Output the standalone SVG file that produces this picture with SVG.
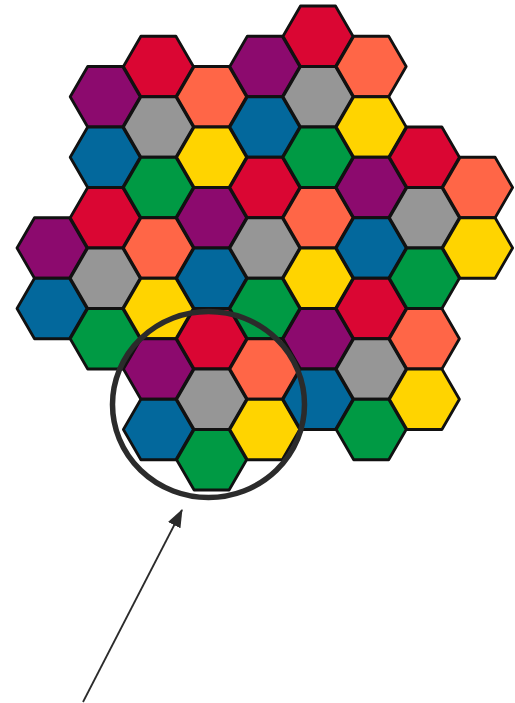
<svg xmlns="http://www.w3.org/2000/svg" xmlns:xlink="http://www.w3.org/1999/xlink" width="515" height="703" viewBox="0 0 515 703">
<style>
.h{stroke:#111;stroke-width:2.8;stroke-linejoin:round}
.r{fill:#DA0633}.o{fill:#FF6647}.g{fill:#969696}.y{fill:#FFD400}
.gr{fill:#009A44}.b{fill:#03689C}.p{fill:#8C0A6E}
.ring{fill:none;stroke:#2B2B2B;stroke-width:5.5}
.arr{stroke:#2B2B2B;stroke-width:1.8;fill:none}
</style>
<defs>
<polygon id="hex" points="-35,0 -17.5,-30.25 17.5,-30.25 35,0 17.5,30.25 -17.5,30.25"/>
<marker id="ah" markerWidth="18" markerHeight="14" refX="17" refY="7" orient="auto" markerUnits="userSpaceOnUse" viewBox="0 0 18 14">
<path d="M0,0 L18,7 L0,14 Z" fill="#2B2B2B"/>
</marker>
</defs>
<g id="cells">
<g id="c0a"><use href="#hex" class="h p" x="52" y="248"/></g>
<g id="c0b"><use href="#hex" class="h b" x="52" y="308.5"/></g>

<g id="c1a"><use href="#hex" class="h p" x="105.2" y="96.75"/></g>
<g id="c1b"><use href="#hex" class="h b" x="105.2" y="157.25"/></g>
<g id="c1c"><use href="#hex" class="h r" x="105.2" y="217.75"/></g>
<g id="c1d"><use href="#hex" class="h g" x="105.2" y="278.25"/></g>
<g id="c1e"><use href="#hex" class="h gr" x="105.2" y="338.75"/></g>

<g id="c2a"><use href="#hex" class="h r" x="158.4" y="66.5"/></g>
<g id="c2b"><use href="#hex" class="h g" x="158.4" y="127"/></g>
<g id="c2c"><use href="#hex" class="h gr" x="158.4" y="187.5"/></g>
<g id="c2d"><use href="#hex" class="h o" x="158.4" y="248"/></g>
<g id="c2e"><use href="#hex" class="h y" x="158.4" y="308.5"/></g>
<g id="c2f"><use href="#hex" class="h p" x="158.4" y="369"/></g>
<g id="c2g"><use href="#hex" class="h b" x="158.4" y="429.5"/></g>

<g id="c3a"><use href="#hex" class="h o" x="211.6" y="96.75"/></g>
<g id="c3b"><use href="#hex" class="h y" x="211.6" y="157.25"/></g>
<g id="c3c"><use href="#hex" class="h p" x="211.6" y="217.75"/></g>
<g id="c3d"><use href="#hex" class="h b" x="211.6" y="278.25"/></g>
<g id="c3e"><use href="#hex" class="h r" x="211.6" y="338.75"/></g>
<g id="c3f"><use href="#hex" class="h g" x="211.6" y="399.25"/></g>
<g id="c3g"><use href="#hex" class="h gr" x="211.6" y="459.75"/></g>

<g id="c4a"><use href="#hex" class="h p" x="264.8" y="66.5"/></g>
<g id="c4b"><use href="#hex" class="h b" x="264.8" y="127"/></g>
<g id="c4c"><use href="#hex" class="h r" x="264.8" y="187.5"/></g>
<g id="c4d"><use href="#hex" class="h g" x="264.8" y="248"/></g>
<g id="c4e"><use href="#hex" class="h gr" x="264.8" y="308.5"/></g>
<g id="c4f"><use href="#hex" class="h o" x="264.8" y="369"/></g>
<g id="c4g"><use href="#hex" class="h y" x="264.8" y="429.5"/></g>

<g id="c5a"><use href="#hex" class="h r" x="318" y="36.25"/></g>
<g id="c5b"><use href="#hex" class="h g" x="318" y="96.75"/></g>
<g id="c5c"><use href="#hex" class="h gr" x="318" y="157.25"/></g>
<g id="c5d"><use href="#hex" class="h o" x="318" y="217.75"/></g>
<g id="c5e"><use href="#hex" class="h y" x="318" y="278.25"/></g>
<g id="c5f"><use href="#hex" class="h p" x="318" y="338.75"/></g>
<g id="c5g"><use href="#hex" class="h b" x="318" y="399.25"/></g>

<g id="c6a"><use href="#hex" class="h o" x="371.2" y="66.5"/></g>
<g id="c6b"><use href="#hex" class="h y" x="371.2" y="127"/></g>
<g id="c6c"><use href="#hex" class="h p" x="371.2" y="187.5"/></g>
<g id="c6d"><use href="#hex" class="h b" x="371.2" y="248"/></g>
<g id="c6e"><use href="#hex" class="h r" x="371.2" y="308.5"/></g>
<g id="c6f"><use href="#hex" class="h g" x="371.2" y="369"/></g>
<g id="c6g"><use href="#hex" class="h gr" x="371.2" y="429.5"/></g>

<g id="c7a"><use href="#hex" class="h r" x="424.4" y="157.25"/></g>
<g id="c7b"><use href="#hex" class="h g" x="424.4" y="217.75"/></g>
<g id="c7c"><use href="#hex" class="h gr" x="424.4" y="278.25"/></g>
<g id="c7d"><use href="#hex" class="h o" x="424.4" y="338.75"/></g>
<g id="c7e"><use href="#hex" class="h y" x="424.4" y="399.25"/></g>

<g id="c8a"><use href="#hex" class="h o" x="477.6" y="187.5"/></g>
<g id="c8b"><use href="#hex" class="h y" x="477.6" y="248"/></g>
</g>
<g id="highlight">
<ellipse class="ring" cx="208.5" cy="404.5" rx="96" ry="93"/>
</g>
<g id="connectors">
<line class="arr" x1="83" y1="702" x2="182" y2="510" marker-end="url(#ah)"/>
</g>
</svg>
